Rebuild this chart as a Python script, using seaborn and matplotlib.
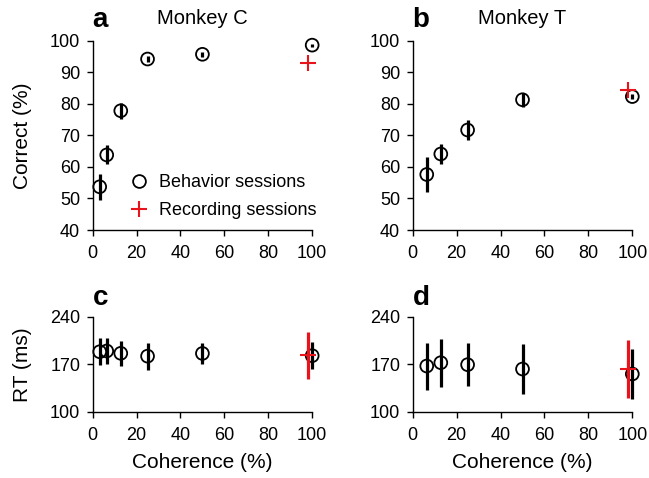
import numpy as np
import pandas as pd
import matplotlib
matplotlib.use("Agg")
import matplotlib.pyplot as plt
from matplotlib.lines import Line2D
import seaborn as sns

# Coherence levels (%)
coh_C = [3.2, 6.4, 12.8, 25, 50, 100]
coh_T = [6.4, 12.8, 25, 50, 100]

# Percent correct, behavior sessions (mean, error)
correct_C = [53.7, 63.8, 77.8, 94.2, 95.7, 98.6]
correct_C_err = [4.2, 3.0, 2.5, 1.0, 0.8, 0.5]
correct_T = [57.6, 64.1, 71.7, 81.3, 82.3]
correct_T_err = [5.6, 3.2, 3.2, 2.2, 0.8]

# Reaction times (ms), behavior sessions
rt_C = [188.5, 189.6, 186.2, 182.0, 186.0, 182.7]
rt_C_err = [19.6, 19.0, 18.0, 20.0, 16.0, 20.0]
rt_T = [167.5, 172.4, 169.5, 163.1, 155.8]
rt_T_err = [34.5, 35.0, 32.0, 37.0, 36.0]

# Recording sessions (100% coherence only)
rec_coh = 100
rec_correct_C, rec_correct_T = 92.9, 84.4
rec_rt_C, rec_rt_C_err = 183.2, 35.0
rec_rt_T, rec_rt_T_err = 163.0, 43.0

rec_dodge = -2.0  # shift recording marker left so it doesn't hide the behavior marker

sns.set_style("ticks")
plt.rcParams["font.family"] = ["Liberation Sans", "DejaVu Sans"]
for key in ("text.color", "axes.labelcolor", "xtick.color", "ytick.color", "axes.edgecolor"):
    plt.rcParams[key] = "black"
plt.rcParams["axes.linewidth"] = 1.0
plt.rcParams["xtick.major.width"] = 1.0
plt.rcParams["ytick.major.width"] = 1.0
plt.rcParams["xtick.major.size"] = 4
plt.rcParams["ytick.major.size"] = 4

fig = plt.figure(figsize=(6.49, 4.78), dpi=100)
ax_a = fig.add_axes([0.1428, 0.5188, 0.3382, 0.396])
ax_b = fig.add_axes([0.6359, 0.5188, 0.3384, 0.396])
ax_c = fig.add_axes([0.1428, 0.1381, 0.3382, 0.1994])
ax_d = fig.add_axes([0.6359, 0.1381, 0.3384, 0.1994])

TICK_FS = 13
LABEL_FS = 15


def draw_panel(ax, coh, vals, errs, rec_val, rec_err=None):
    df = pd.DataFrame({"coherence": coh, "value": vals, "err": errs})
    ax.errorbar(df["coherence"], df["value"], yerr=df["err"], fmt="none",
                ecolor="black", elinewidth=2.3, capsize=0, clip_on=False, zorder=2)
    sns.scatterplot(data=df, x="coherence", y="value", ax=ax, marker="o",
                    s=85, facecolor="none", edgecolor="black", linewidth=1.3,
                    clip_on=False, zorder=3)
    rec_df = pd.DataFrame({"coherence": [rec_coh + rec_dodge], "value": [rec_val]})
    if rec_err is not None:
        ax.errorbar(rec_df["coherence"], rec_df["value"], yerr=[rec_err], fmt="none",
                    ecolor="#e8141c", elinewidth=2.3, capsize=0, clip_on=False, zorder=4)
    sns.scatterplot(data=rec_df, x="coherence", y="value", ax=ax, marker="+",
                    s=120, color="#e8141c", linewidth=1.5, clip_on=False, zorder=5)
    ax.set_xlim(0, 100)
    ax.set_xticks([0, 20, 40, 60, 80, 100])
    ax.tick_params(labelsize=TICK_FS, pad=5, direction="out")
    ax.tick_params(axis="x", pad=7)
    ax.set_xlabel("")
    ax.set_ylabel("")
    sns.despine(ax=ax)


draw_panel(ax_a, coh_C, correct_C, correct_C_err, rec_correct_C)
draw_panel(ax_b, coh_T, correct_T, correct_T_err, rec_correct_T)
draw_panel(ax_c, coh_C, rt_C, rt_C_err, rec_rt_C, rec_rt_C_err)
draw_panel(ax_d, coh_T, rt_T, rt_T_err, rec_rt_T, rec_rt_T_err)

for ax in (ax_a, ax_b):
    ax.set_ylim(40, 100)
    ax.set_yticks(range(40, 101, 10))
for ax in (ax_c, ax_d):
    ax.set_ylim(100, 240)
    ax.set_yticks([100, 170, 240])
    ax.set_xlabel("Coherence (%)", fontsize=LABEL_FS, labelpad=6)

ax_a.set_ylabel("Correct (%)", fontsize=LABEL_FS)
ax_c.set_ylabel("RT (ms)", fontsize=LABEL_FS)
ax_a.yaxis.set_label_coords(-0.275, 0.5)
ax_c.yaxis.set_label_coords(-0.275, 0.5)

ax_a.set_title("Monkey C", fontsize=14.5, pad=12)
ax_b.set_title("Monkey T", fontsize=14.5, pad=12)

for ax, letter, y in ((ax_a, "a", 1.04), (ax_b, "b", 1.04), (ax_c, "c", 1.06), (ax_d, "d", 1.06)):
    ax.text(0.0, y, letter, transform=ax.transAxes, fontsize=20, fontweight="bold",
            ha="left", va="bottom")

handles = [
    Line2D([], [], marker="o", linestyle="none", markersize=9.2,
           markerfacecolor="none", markeredgecolor="black", markeredgewidth=1.3),
    Line2D([], [], marker="+", linestyle="none", markersize=12,
           color="#e8141c", markeredgewidth=1.5),
]
ax_a.legend(handles, ["Behavior sessions", "Recording sessions"],
            loc="upper left", bbox_to_anchor=(130 / 649, 1 - 174 / 478),
            bbox_transform=fig.transFigure, frameon=False, fontsize=TICK_FS,
            handlelength=1.0, handletextpad=0.6, labelspacing=0.6,
            borderpad=0.0, borderaxespad=0.0)

fig.savefig("out.png", dpi=100)
